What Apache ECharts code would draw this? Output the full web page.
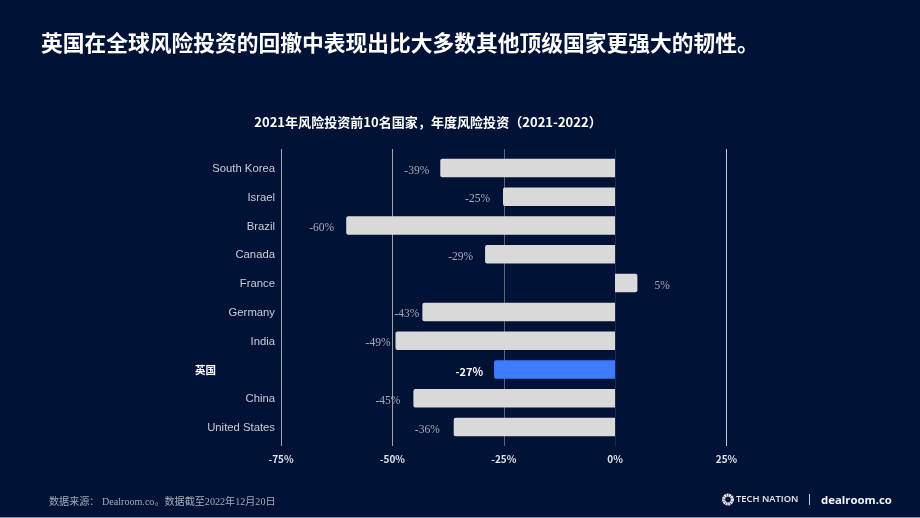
<!DOCTYPE html>
<html>
<head>
<meta charset="utf-8">
<style>html,body{margin:0;padding:0;background:#001236}#c{width:920px;height:518px}</style>
<script src="https://cdn.jsdelivr.net/npm/echarts@6/dist/echarts.min.js"></script>
</head>
<body>
<div id="c"></div>
<script>
// Annual venture investment change by country, 2021-2022
const categories = ['South Korea','Israel','Brazil','Canada','France','Germany','India','英国','China','United States'];
const changes = [-39,-25,-60,-29,5,-43,-49,-27,-45,-36];
const axisTicks = [-75,-50,-25,0,25];
const labelGaps = [11,13,12,12,17,3,5,11,13,14];
const highlight = '英国';

const CJK = '"Noto Sans CJK SC"';
const chart = echarts.init(document.getElementById('c'), null, {renderer:'canvas'});
chart.setOption({
  backgroundColor:'#001236',
  animation:false,
  title:[
    {text:'英国在全球风险投资的回撤中表现出比大多数其他顶级国家更强大的韧性。',left:36,top:24,
     textStyle:{color:'#fff',fontFamily:CJK,fontWeight:700,fontSize:21.75,lineHeight:28}},
    {text:'2021年风险投资前10名国家，年度风险投资（2021-2022）',left:423,top:109,textAlign:'center',
     textStyle:{color:'#fff',fontFamily:CJK,fontWeight:700,fontSize:13.05,lineHeight:17}},
    {text:'数据来源： Dealroom.co。数据截至2022年12月20日',left:44,top:491,
     textStyle:{color:'#a4abb8',fontFamily:'"Liberation Serif",'+CJK,fontWeight:400,fontSize:10.1,lineHeight:13}}
  ],
  grid:[
    {left:281,width:445.5,top:149,height:297},
    {left:279,width:448,top:153.6,height:287.8}
  ],
  xAxis:[
    {type:'value',gridIndex:0,min:-75,max:25,interval:25,
     axisLine:{show:false},axisTick:{show:false},
     axisLabel:{color:'#dfe2e7',fontFamily:CJK,fontWeight:600,fontSize:10,margin:8,
       formatter:v=>axisTicks.includes(v)?v+'%':''},
     splitLine:{show:true,lineStyle:{width:1,color:['#9ea3ad','#9ea3ad','#5b667c','#1d2a44','#c4c7cc']}}},
    {type:'value',gridIndex:1,min:-75,max:25,interval:25,show:false}
  ],
  yAxis:[
    {type:'category',gridIndex:0,show:false,data:categories},
    {type:'category',gridIndex:1,inverse:true,data:categories,
     axisLine:{show:false},axisTick:{show:false},
     axisLabel:{margin:4,fontSize:11.3,color:'#c9ccd2',fontFamily:'"Liberation Sans"',padding:[2,0,0,0],
       formatter:v=>v===highlight?'{hi|'+v+'}':v,
       rich:{hi:{color:'#fff',fontFamily:CJK,fontWeight:700,fontSize:10.5,padding:[0,59,0,0]}}}}
  ],
  series:[{
    type:'bar',xAxisIndex:1,yAxisIndex:1,barWidth:18.5,
    data:changes.map((v,i)=>{
      const hi=categories[i]===highlight;
      return {
        value:v,
        itemStyle:{color:hi?'#3f7bff':'#d9d9d9',borderRadius:v<0?[2,0,0,2]:[0,2,2,0]},
        label:{show:true,position:v<0?'left':'right',distance:labelGaps[i],offset:[0,2.5],
          formatter:v+'%',
          color:hi?'#fff':'#a4abb8',
          fontFamily:hi?CJK:'"Liberation Serif"',
          fontWeight:hi?700:400,
          fontSize:hi?11:11.5}
      };
    })
  }],
  graphic:[
    {type:'rect',left:0,top:517,shape:{width:920,height:1},style:{fill:'#8d96a5'}},
    {type:'circle',shape:{cx:728,cy:499.5,r:4.4},style:{fill:'none',stroke:'#e8eaee',lineWidth:3.2,lineDash:[1.9,0.45]}},
    {type:'text',left:736,top:495,style:{text:'TECH NATION',fill:'#e8eaee',font:'600 9.4px "Open Sans"'}},
    {type:'rect',left:809,top:494,shape:{width:1,height:11},style:{fill:'#c8ccd4'}},
    {type:'text',left:821,top:495,style:{text:'dealroom.co',fill:'#f2f3f5',font:'700 11.4px "Open Sans"'}}
  ]
});
</script>
</body>
</html>
